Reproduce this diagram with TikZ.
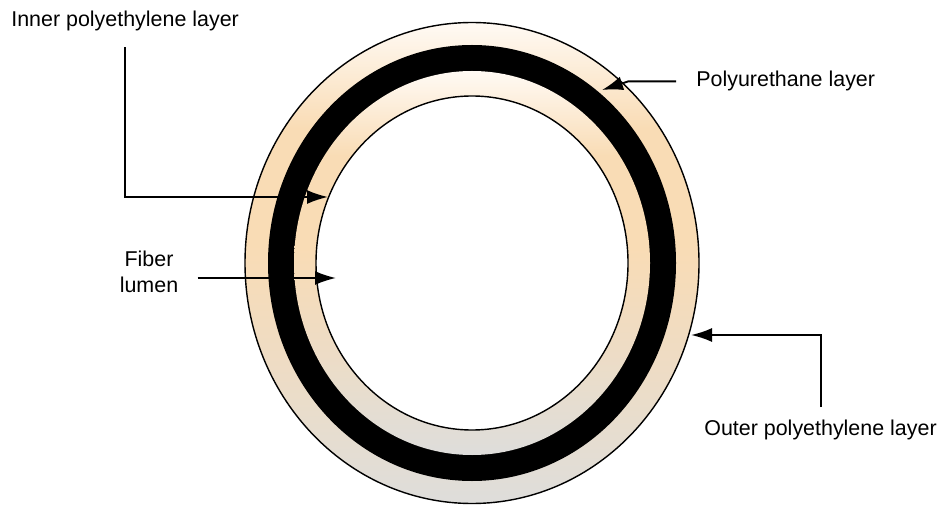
\documentclass[tikz,border=0pt]{standalone}
\usepackage{fontspec}
\setmainfont{Liberation Sans}
\usetikzlibrary{arrows.meta,positioning,calc}
\definecolor{ringtop}{HTML}{FFFAF4}
\definecolor{ringpeach}{HTML}{F9DCB5}
\definecolor{ringgrey}{HTML}{DEDDDB}
\colorlet{ringmix}{ringgrey!45!ringpeach}
\pgfdeclareverticalshading{ringshade}{100bp}{color(0bp)=(ringgrey); color(25bp)=(ringgrey); color(38bp)=(ringmix); color(52bp)=(ringpeach); color(64bp)=(ringpeach); color(75bp)=(ringtop); color(100bp)=(ringtop)}

\begin{document}
\begin{tikzpicture}[x=0.02cm, y=-0.02cm,
  lbl/.style={font=\fontsize{12.2}{14.8}\selectfont, inner sep=0pt, text=black},
  ring/.style={shade, shading=ringshade},
  rim/.style={draw=black, line width=0.8pt},
  leader/.style={line width=1.1pt, -{Latex[length=0.42cm, width=0.28cm]}}
]
  \useasboundingbox (0,0) rectangle (942,506);
  % Fibre wall, outside in
  \coordinate (c) at (472,263);
  \path[ring, rim] (c) ellipse [x radius=227, y radius=240.5];
  \fill[black] (c) ellipse [x radius=204, y radius=218];
  \path[ring] (c) ellipse [x radius=178, y radius=192];
  \filldraw[fill=white, rim] (c) ellipse [x radius=156, y radius=167];
  % Labels
  \node[lbl, anchor=base west] (innerlbl) at (11,27) {Inner polyethylene layer};
  \node[lbl, align=center] (lumenlbl) at (149,272) {Fiber\\lumen};
  \node[lbl, anchor=base west] (purlbl) at (696,87) {Polyurethane layer};
  \node[lbl, anchor=base west] (outerlbl) at (704,435) {Outer polyethylene layer};
  % Arrow tips on the rings
  \coordinate (innertip) at (328,197);
  \coordinate (lumentip) at (336,278);
  \coordinate (purbend) at (628,82);
  \coordinate (purtip) at (602,90);
  \coordinate (outertip) at (691,335);
  % Leaders
  \draw[leader, shorten <=0.31cm] (innerlbl.south) |- (innertip);
  \draw[leader, shorten <=0.38cm] (lumenlbl.east |- lumentip) -- (lumentip);
  \draw[leader, shorten <=0.4cm] (purlbl.west) -- (purlbl.west -| purbend) -- (purtip);
  \draw[leader, shorten <=0.24cm] (outerlbl.north) |- (outertip);
\end{tikzpicture}
\end{document}
